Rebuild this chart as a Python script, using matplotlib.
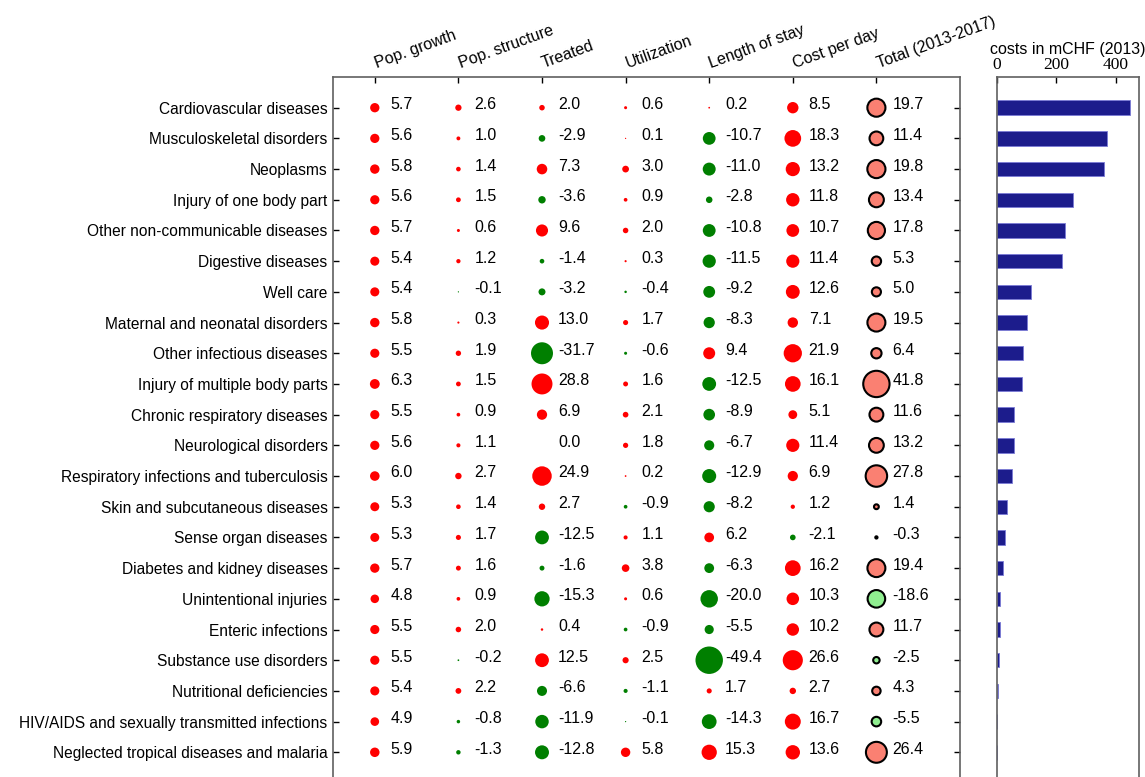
import matplotlib
matplotlib.use("Agg")
import matplotlib.pyplot as plt
import numpy as np

plt.rcParams['font.family'] = ['Liberation Sans', 'DejaVu Sans']

categories = [
    "Cardiovascular diseases", "Musculoskeletal disorders", "Neoplasms",
    "Injury of one body part", "Other non-communicable diseases", "Digestive diseases",
    "Well care", "Maternal and neonatal disorders", "Other infectious diseases",
    "Injury of multiple body parts", "Chronic respiratory diseases", "Neurological disorders",
    "Respiratory infections and tuberculosis", "Skin and subcutaneous diseases",
    "Sense organ diseases", "Diabetes and kidney diseases", "Unintentional injuries",
    "Enteric infections", "Substance use disorders", "Nutritional deficiencies",
    "HIV/AIDS and sexually transmitted infections", "Neglected tropical diseases and malaria",
]
columns = ["Pop. growth", "Pop. structure", "Treated", "Utilization",
           "Length of stay", "Cost per day", "Total (2013-2017)"]

pop_growth = [5.7, 5.6, 5.8, 5.6, 5.7, 5.4, 5.4, 5.8, 5.5, 6.3, 5.5, 5.6, 6.0, 5.3, 5.3, 5.7, 4.8, 5.5, 5.5, 5.4, 4.9, 5.9]
pop_structure = [2.6, 1.0, 1.4, 1.5, 0.6, 1.2, -0.1, 0.3, 1.9, 1.5, 0.9, 1.1, 2.7, 1.4, 1.7, 1.6, 0.9, 2.0, -0.2, 2.2, -0.8, -1.3]
treated = [2.0, -2.9, 7.3, -3.6, 9.6, -1.4, -3.2, 13.0, -31.7, 28.8, 6.9, 0.0, 24.9, 2.7, -12.5, -1.6, -15.3, 0.4, 12.5, -6.6, -11.9, -12.8]
utilization = [0.6, 0.1, 3.0, 0.9, 2.0, 0.3, -0.4, 1.7, -0.6, 1.6, 2.1, 1.8, 0.2, -0.9, 1.1, 3.8, 0.6, -0.9, 2.5, -1.1, -0.1, 5.8]
length_of_stay = [0.2, -10.7, -11.0, -2.8, -10.8, -11.5, -9.2, -8.3, 9.4, -12.5, -8.9, -6.7, -12.9, -8.2, 6.2, -6.3, -20.0, -5.5, -49.4, 1.7, -14.3, 15.3]
cost_per_day = [8.5, 18.3, 13.2, 11.8, 10.7, 11.4, 12.6, 7.1, 21.9, 16.1, 5.1, 11.4, 6.9, 1.2, -2.1, 16.2, 10.3, 10.2, 26.6, 2.7, 16.7, 13.6]
total = [19.7, 11.4, 19.8, 13.4, 17.8, 5.3, 5.0, 19.5, 6.4, 41.8, 11.6, 13.2, 27.8, 1.4, -0.3, 19.4, -18.6, 11.7, -2.5, 4.3, -5.5, 26.4]
costs_2013 = [447, 371, 360, 257, 230, 219, 114, 103, 89, 87, 60, 57, 51, 36, 27, 22, 11, 11, 8, 5, 3, 1]

components = [pop_growth, pop_structure, treated, utilization, length_of_stay, cost_per_day]

W, H = 1145, 777
fig = plt.figure(figsize=(W / 100, H / 100), dpi=100)

top_px, bot_px = 77, 783
y0 = 1 - bot_px / H
hh = (bot_px - top_px) / H
ax = fig.add_axes([333 / W, y0, (960 - 333) / W, hh])
ax2 = fig.add_axes([996.5 / W, y0, (1139 - 996.5) / W, hh])

rows = np.arange(1, len(categories) + 1)
spine_col = '#606060'
FS = 11.5

for ci, vals in enumerate(components):
    v = np.array(vals)
    cols = np.where(v >= 0, '#ff0000', '#007f00')
    ax.scatter(np.full(len(v), ci), rows, s=7.9 * np.abs(v), c=cols, linewidths=0, zorder=3)
    for r, val in zip(rows, v):
        ax.text(ci + 0.19, r - 0.1, f"{val:.1f}", ha='left', va='center', fontsize=FS)

tv = np.array(total)
tcols = np.where(tv >= 0, '#fa8072', '#90ee90')
ax.scatter(np.full(len(tv), 6), rows, s=8.6 * np.abs(tv), c=tcols, edgecolors='black',
           linewidths=1.5, zorder=3)
for r, val in zip(rows, tv):
    ax.text(6 + 0.19, r - 0.1, f"{val:.1f}", ha='left', va='center', fontsize=FS)

ax.set_xlim(-0.5, 7.0)
ax.set_ylim(23, 0)
ax.set_xticks(range(7))
ax.set_xticklabels([])
ax.set_yticks(rows)
ax.set_yticklabels(categories, fontsize=11.2)
ax.tick_params(axis='both', direction='in', length=4, width=1, top=True, bottom=True,
               left=True, right=True, labeltop=False, labelbottom=False, pad=4)
for sp in ax.spines.values():
    sp.set_color(spine_col)
    sp.set_linewidth(1.2)

for ci, name in enumerate(columns):
    ax.annotate(name, xy=(ci, 1.0), xycoords=('data', 'axes fraction'),
                xytext=(1.5, 6.5), textcoords='offset points',
                rotation=20, rotation_mode='anchor', ha='left', va='baseline',
                fontsize=FS, annotation_clip=False)

ax2.barh(rows, costs_2013, height=0.47, color='#1c1c8c', edgecolor='#7a7ad6', linewidth=0.6)
ax2.set_ylim(23, 0)
ax2.set_xlim(0, 477)
ax2.xaxis.tick_top()
ax2.set_xticks([0, 200, 400])
ax2.set_xticklabels(['0', '200', '400'], family=['Liberation Serif', 'DejaVu Serif'], fontsize=12.5)
ax2.set_yticks([])
ax2.tick_params(axis='x', direction='in', length=4, width=1, pad=3)
for sp in ax2.spines.values():
    sp.set_color(spine_col)
    sp.set_linewidth(1.2)
ax2.set_title("costs in mCHF (2013)", fontsize=FS, pad=1)

fig.savefig("out.png", dpi=100)
